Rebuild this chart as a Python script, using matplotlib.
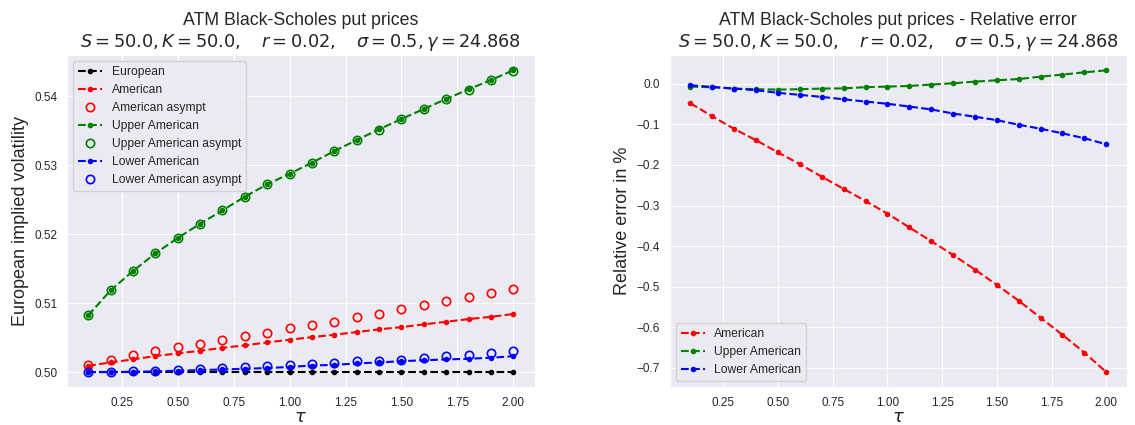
import numpy as np
import matplotlib
matplotlib.use("Agg")
import matplotlib.pyplot as plt
import seaborn as sns

# maturities
tau = [0.1, 0.2, 0.3, 0.4, 0.5, 0.6, 0.7, 0.8, 0.9, 1.0,
       1.1, 1.2, 1.3, 1.4, 1.5, 1.6, 1.7, 1.8, 1.9, 2.0]

# implied vols (left panel)
european = [0.5000] * 20
american = [0.50091, 0.50140, 0.50184, 0.50232, 0.50271, 0.50309, 0.50352, 0.50387, 0.50430, 0.50468,
            0.50507, 0.50541, 0.50580, 0.50619, 0.50652, 0.50691, 0.50729, 0.50768, 0.50801, 0.50841]
american_asympt = [0.50101, 0.50178, 0.50242, 0.50304, 0.50358, 0.50406, 0.50468, 0.50517, 0.50570, 0.50633,
                   0.50681, 0.50729, 0.50797, 0.50845, 0.50909, 0.50967, 0.51025, 0.51083, 0.51145, 0.51207]
upper = [0.50822, 0.51184, 0.51464, 0.51720, 0.51942, 0.52149, 0.52343, 0.52541, 0.52720, 0.52874,
         0.53033, 0.53203, 0.53362, 0.53517, 0.53667, 0.53812, 0.53957, 0.54097, 0.54232, 0.54372]
upper_asympt = [0.50825, 0.51186, 0.51468, 0.51723, 0.51945, 0.52151, 0.52346, 0.52544, 0.52722, 0.52876,
                0.53030, 0.53200, 0.53358, 0.53513, 0.53662, 0.53806, 0.53952, 0.54092, 0.54226, 0.54368]
lower = [0.50000, 0.50000, 0.50005, 0.50010, 0.50020, 0.50029, 0.50038, 0.50048, 0.50058, 0.50075,
         0.50095, 0.50105, 0.50125, 0.50140, 0.50158, 0.50172, 0.50183, 0.50193, 0.50208, 0.50230]
lower_asympt = [0.50000, 0.50000, 0.50010, 0.50020, 0.50035, 0.50043, 0.50058, 0.50078, 0.50092, 0.50101,
                0.50118, 0.50136, 0.50154, 0.50164, 0.50179, 0.50208, 0.50227, 0.50251, 0.50274, 0.50299]

# relative errors in % (right panel)
err_american = [-0.048, -0.080, -0.111, -0.139, -0.169, -0.198, -0.229, -0.259, -0.289, -0.320,
                -0.354, -0.388, -0.422, -0.458, -0.496, -0.535, -0.577, -0.619, -0.663, -0.711]
err_upper = [-0.0066, -0.0083, -0.0115, -0.0130, -0.0140, -0.0130, -0.0115, -0.0110, -0.0080, -0.0066,
             -0.0050, -0.0016, 0.0016, 0.0057, 0.0090, 0.0120, 0.0180, 0.0230, 0.0286, 0.0335]
err_lower = [-0.0033, -0.0074, -0.0115, -0.0156, -0.0220, -0.0270, -0.0320, -0.0380, -0.0435, -0.0490,
             -0.0558, -0.0630, -0.0730, -0.0810, -0.0894, -0.1007, -0.1106, -0.1220, -0.1340, -0.1490]

title = ("ATM Black-Scholes put prices\n"
         r"$S=50.0, K=50.0, \quad r=0.02, \quad \sigma=0.5, \gamma=24.868$")
title2 = ("ATM Black-Scholes put prices - Relative error\n"
          r"$S=50.0, K=50.0, \quad r=0.02, \quad \sigma=0.5, \gamma=24.868$")

sns.set_style("darkgrid")
plt.rcParams['font.family'] = ['Liberation Sans', 'DejaVu Sans']
plt.rcParams['mathtext.fontset'] = 'dejavusans'

fig = plt.figure(figsize=(11.35, 4.25), dpi=100)
ax1 = fig.add_axes([0.059, 0.089, 0.412, 0.781])
ax2 = fig.add_axes([0.590, 0.089, 0.403, 0.781])

lw, ms, mso = 1.5, 6, 6
ax1.plot(tau, european, '--', marker='.', color='black', lw=lw, ms=ms, label='European')
ax1.plot(tau, american, '--', marker='.', color='red', lw=lw, ms=ms, label='American')
ax1.plot(tau, american_asympt, 'o', mfc='none', mec='red', ms=mso, mew=1.2, label='American asympt')
ax1.plot(tau, upper, '--', marker='.', color='green', lw=lw, ms=ms, label='Upper American')
ax1.plot(tau, upper_asympt, 'o', mfc='none', mec='green', ms=mso, mew=1.2, label='Upper American asympt')
ax1.plot(tau, lower, '--', marker='.', color='blue', lw=lw, ms=ms, label='Lower American')
ax1.plot(tau, lower_asympt, 'o', mfc='none', mec='blue', ms=mso, mew=1.2, label='Lower American asympt')
ax1.set_title(title, fontsize=12.8)
ax1.set_xlabel(r'$\tau$', fontsize=13, labelpad=0)
ax1.set_ylabel('European implied volatility', fontsize=13)
ax1.legend(loc='upper left', fontsize=8.7, numpoints=1)

ax2.plot(tau, err_american, '--', marker='.', color='red', lw=lw, ms=ms, label='American')
ax2.plot(tau, err_upper, '--', marker='.', color='green', lw=lw, ms=ms, label='Upper American')
ax2.plot(tau, err_lower, '--', marker='.', color='blue', lw=lw, ms=ms, label='Lower American')
ax2.set_title(title2, fontsize=12.8)
ax2.set_xlabel(r'$\tau$', fontsize=13, labelpad=0)
ax2.set_ylabel('Relative error in %', fontsize=13)
ax2.legend(loc='lower left', fontsize=8.7, numpoints=1)

for ax in (ax1, ax2):
    ax.set_xticks([0.25, 0.5, 0.75, 1.0, 1.25, 1.5, 1.75, 2.0])
    ax.tick_params(labelsize=8.5)

fig.savefig("out.png", dpi=100)
